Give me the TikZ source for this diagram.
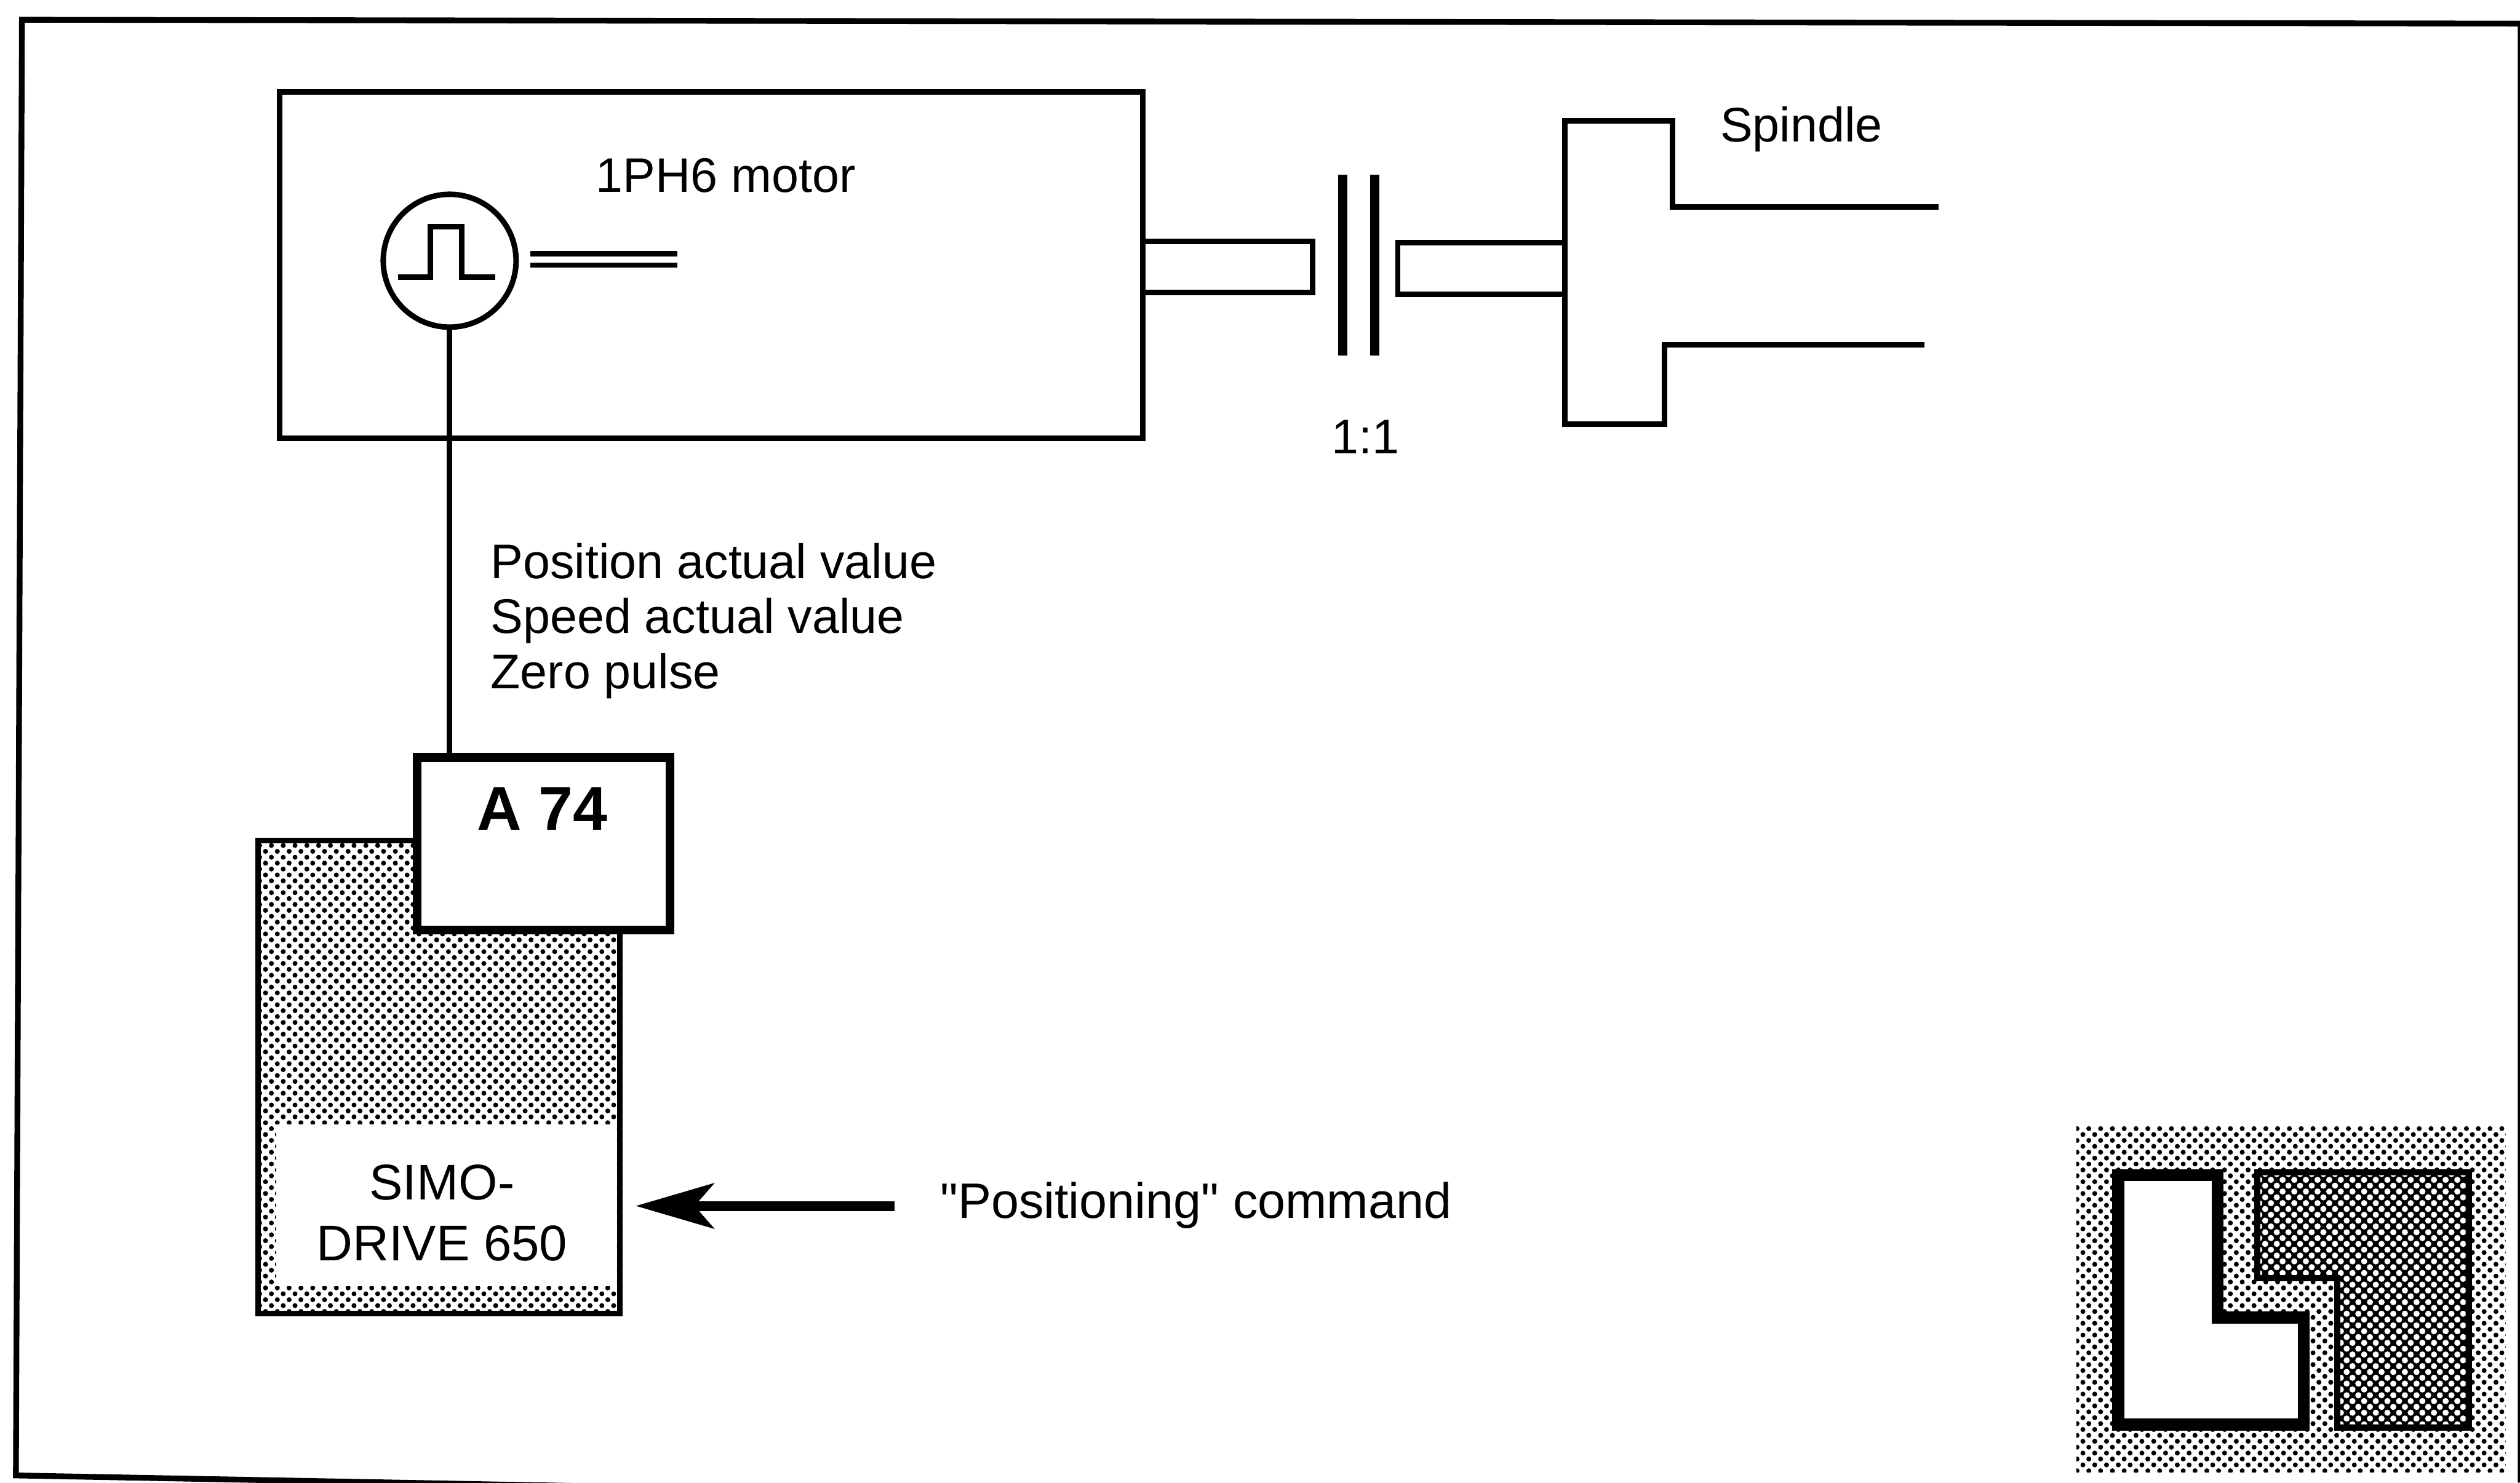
\documentclass[tikz,border=0pt]{standalone}
\usepackage{fontspec}
\newfontfamily\labelfont{Liberation Sans}
\usetikzlibrary{arrows.meta, patterns.meta}

\tikzset{
	labeltext/.style={font=\labelfont\fontsize{25.2}{28.6}\selectfont, inner sep=0pt},
	heavy/.style={line width=0.10cm},
	lightdots/.style={pattern={Dots[distance=0.152cm, angle=45, radius=0.045cm]}},
	darkdots/.style={pattern={Dots[distance=0.15cm, angle=45, radius=0.056cm]}, pattern color=white}
}

\begin{document}
\begin{tikzpicture}[>={Stealth[length=1.42cm, width=0.82cm, inset=0.35cm]}]
	\useasboundingbox (0,0) rectangle (45.9,27.01);
	%%%	Drawing
	% Frame
	\draw[line width=0.105cm] (12.00,-0.09) -- (0.29,0.13) -- (0.40,26.65) -- (45.91,26.58) -- (45.91,0);
	
	% Motor
	\node[draw, heavy, minimum width=15.72cm, minimum height=6.30cm, inner sep=0pt] (motor) at (12.95,22.18) {};
	\node[labeltext, anchor=base west] (motorlabel) at (10.85,23.51) {1PH6 motor};
	\node[draw, circle, heavy, minimum size=2.42cm, inner sep=0pt] (encoder) at (8.19,22.26) {};
	\draw[heavy] (7.25,21.96) -- (7.84,21.96) -- (7.84,22.88) -- (8.41,22.88) -- (8.41,21.96) -- (9.02,21.96);
	\draw[heavy] (9.66,22.39) -- (12.34,22.39);
	\draw[heavy] (9.66,22.18) -- (12.34,22.18);
	
	% Clutch
	\draw[heavy] (20.81,22.61) rectangle (23.91,21.68);
	\draw[line width=0.17cm] (24.46,23.83) -- (24.46,20.53);
	\draw[line width=0.17cm] (25.04,23.83) -- (25.04,20.53);
	\draw[heavy] (28.50,22.59) -- (25.46,22.59) -- (25.46,21.65) -- (28.50,21.65);
	\node[labeltext, anchor=base] (ratio) at (24.87,18.74) {1:1};
	
	% Spindle
	\draw[heavy] (35.31,23.24) -- (30.46,23.24) -- (30.46,24.81) -- (28.50,24.81) -- (28.50,19.28) -- (30.32,19.28) -- (30.32,20.73) -- (35.05,20.73);
	\node[labeltext, anchor=base] (spindle) at (32.81,24.43) {Spindle};
	
	% Drive
	\node[draw, heavy, lightdots, minimum width=6.59cm, minimum height=8.62cm, inner sep=0pt] (drive) at (7.995,7.39) {};
	\fill[white] (5.03,3.58) rectangle (11.22,6.52);
	\node[labeltext, font=\labelfont\fontsize{26}{28.6}\selectfont, align=center] (drivelabel) at (8.05,4.91) {SIMO-\\[3pt]DRIVE 650};
	
	% Module
	\node[draw, fill=white, line width=0.16cm, minimum width=4.60cm, minimum height=3.14cm, inner sep=0pt] (module) at (9.90,11.64) {};
	\node[labeltext, font=\labelfont\fontsize{32}{36}\selectfont\bfseries, anchor=base] (modulelabel) at (9.88,11.89) {A 74};
	\draw[heavy] (encoder.south) -- (encoder.south |- module.north);
	\node[labeltext, align=left, anchor=west] (signals) at (8.93,15.70) {Position actual value\\Speed actual value\\Zero pulse};
	
	% Command
	\node[labeltext, font=\labelfont\fontsize{25.8}{28.6}\selectfont, anchor=base west] (command) at (17.12,4.82) {"Positioning" command};
	\coordinate (commandtail) at (16.29,5.04);
	\coordinate (commandtip) at (11.58,5.04);
	\draw[->, line width=0.18cm] (commandtail) -- (commandtip);
	
	% Logo
	\fill[lightdots] (37.82,0.19) rectangle (45.64,6.49);
	\draw[line width=0.22cm, fill=white] (38.58,5.60) -- (40.39,5.60) -- (40.39,3.01) -- (41.96,3.01) -- (41.96,1.06) -- (38.58,1.06) -- cycle;
	\draw[line width=0.22cm, fill=black, postaction={darkdots}] (41.17,5.60) -- (44.91,5.60) -- (44.91,1.06) -- (42.63,1.06) -- (42.63,3.78) -- (41.17,3.78) -- cycle;
\end{tikzpicture}
\end{document}
